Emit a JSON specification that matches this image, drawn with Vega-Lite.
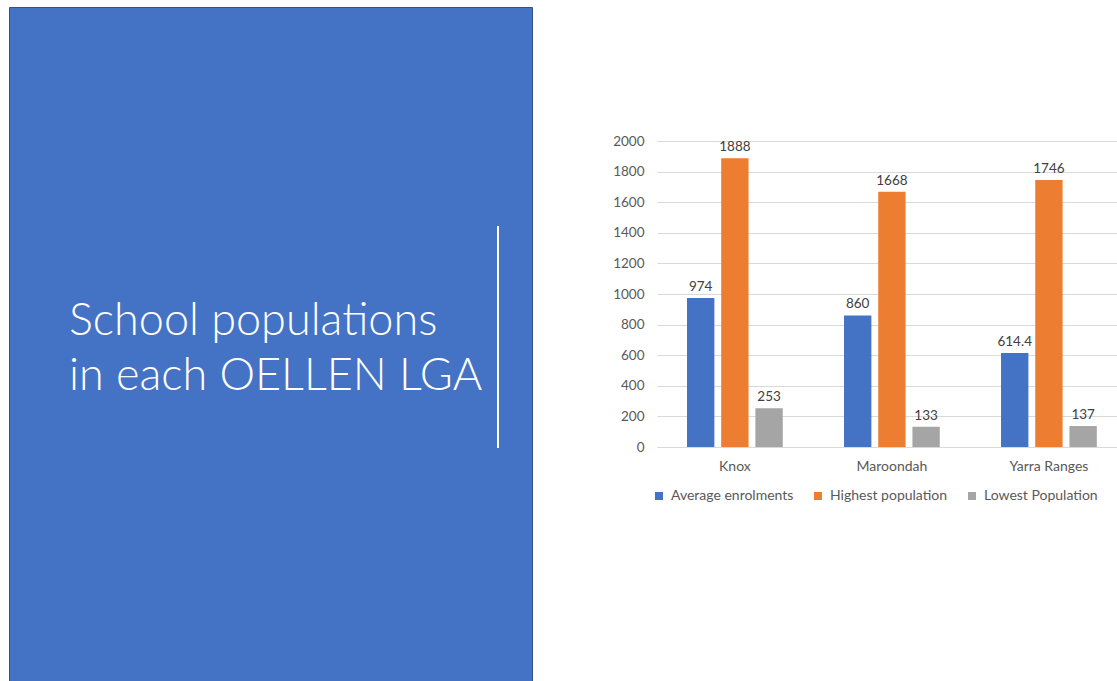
{
  "$schema": "https://vega.github.io/schema/vega-lite/v6.json",
  "background": "white",
  "padding": {"left": 8, "top": 6, "right": 0, "bottom": 0},
  "bounds": "flush",
  "spacing": 125,
  "resolve": {"legend": {"color": "independent"}, "scale": {"color": "independent"}},
  "config": {"font": "Lato", "view": {"stroke": null}},
  "hconcat": [
    {
      "width": 523,
      "height": 675,
      "view": {"fill": "#4472C4", "stroke": "#2F528F", "strokeWidth": 1},
      "data": {"values": [{"title": "School populations\nin each OELLEN LGA"}]},
      "layer": [
        {
          "mark": {"type": "text", "align": "left", "baseline": "alphabetic", "color": "white", "fontSize": 45, "fontWeight": 300, "lineBreak": "\n", "lineHeight": 55, "font": "Lato"},
          "encoding": {
            "text": {"field": "title"},
            "x": {"datum": 0.1147, "type": "quantitative", "scale": {"domain": [0, 1], "nice": false}, "axis": null},
            "y": {"datum": 0.514, "type": "quantitative", "scale": {"domain": [0, 1], "nice": false}, "axis": null}
          }
        },
        {
          "mark": {"type": "rule", "color": "white", "strokeWidth": 2},
          "encoding": {
            "x": {"datum": 0.935, "type": "quantitative"},
            "y": {"datum": 0.6756, "type": "quantitative"},
            "y2": {"datum": 0.3467}
          }
        }
      ]
    },
    {
      "width": 461,
      "height": 440,
      "data": {"values": [
        {"lga": "Knox", "series": "Average enrolments", "value": 974},
        {"lga": "Knox", "series": "Highest population", "value": 1888},
        {"lga": "Knox", "series": "Lowest Population", "value": 253},
        {"lga": "Maroondah", "series": "Average enrolments", "value": 860},
        {"lga": "Maroondah", "series": "Highest population", "value": 1668},
        {"lga": "Maroondah", "series": "Lowest Population", "value": 133},
        {"lga": "Yarra Ranges", "series": "Average enrolments", "value": 614.4},
        {"lga": "Yarra Ranges", "series": "Highest population", "value": 1746},
        {"lga": "Yarra Ranges", "series": "Lowest Population", "value": 137}
      ]},
      "encoding": {
        "x": {
          "field": "lga", "type": "nominal", "sort": ["Knox", "Maroondah", "Yarra Ranges"],
          "scale": {"paddingInner": 0.39, "paddingOuter": 0.163, "align": 0.586},
          "axis": {"title": null, "labelAngle": 0, "ticks": false, "domainColor": "#D9D9D9", "labelColor": "#595959", "labelFontSize": 14, "labelPadding": 12}
        },
        "xOffset": {"field": "series", "type": "nominal", "scale": {"paddingInner": 0.2}},
        "y": {
          "field": "value", "type": "quantitative",
          "scale": {"domain": [0, 2876], "nice": false},
          "axis": {"title": null, "format": "d", "values": [0, 200, 400, 600, 800, 1000, 1200, 1400, 1600, 1800, 2000], "gridColor": "#D9D9D9", "domain": false, "ticks": false, "labelPadding": 13, "labelColor": "#595959", "labelFontSize": 13.5}
        }
      },
      "layer": [
        {
          "mark": {"type": "bar"},
          "encoding": {
            "color": {
              "field": "series", "type": "nominal",
              "scale": {"domain": ["Average enrolments", "Highest population", "Lowest Population"], "range": ["#4472C4", "#ED7D31", "#A5A5A5"]},
              "legend": {"orient": "none", "legendX": -5, "legendY": 482, "padding": 0, "direction": "horizontal", "title": null, "symbolType": "square", "symbolSize": 64, "symbolStrokeWidth": 0, "labelFontSize": 14, "labelColor": "#595959", "columnPadding": 17, "labelOffset": 5}
            }
          }
        },
        {
          "mark": {"type": "text", "dy": -7, "baseline": "alphabetic", "fontSize": 13.5, "color": "#404040"},
          "encoding": {"text": {"field": "value", "type": "quantitative", "format": "~g"}}
        }
      ]
    }
  ]
}
